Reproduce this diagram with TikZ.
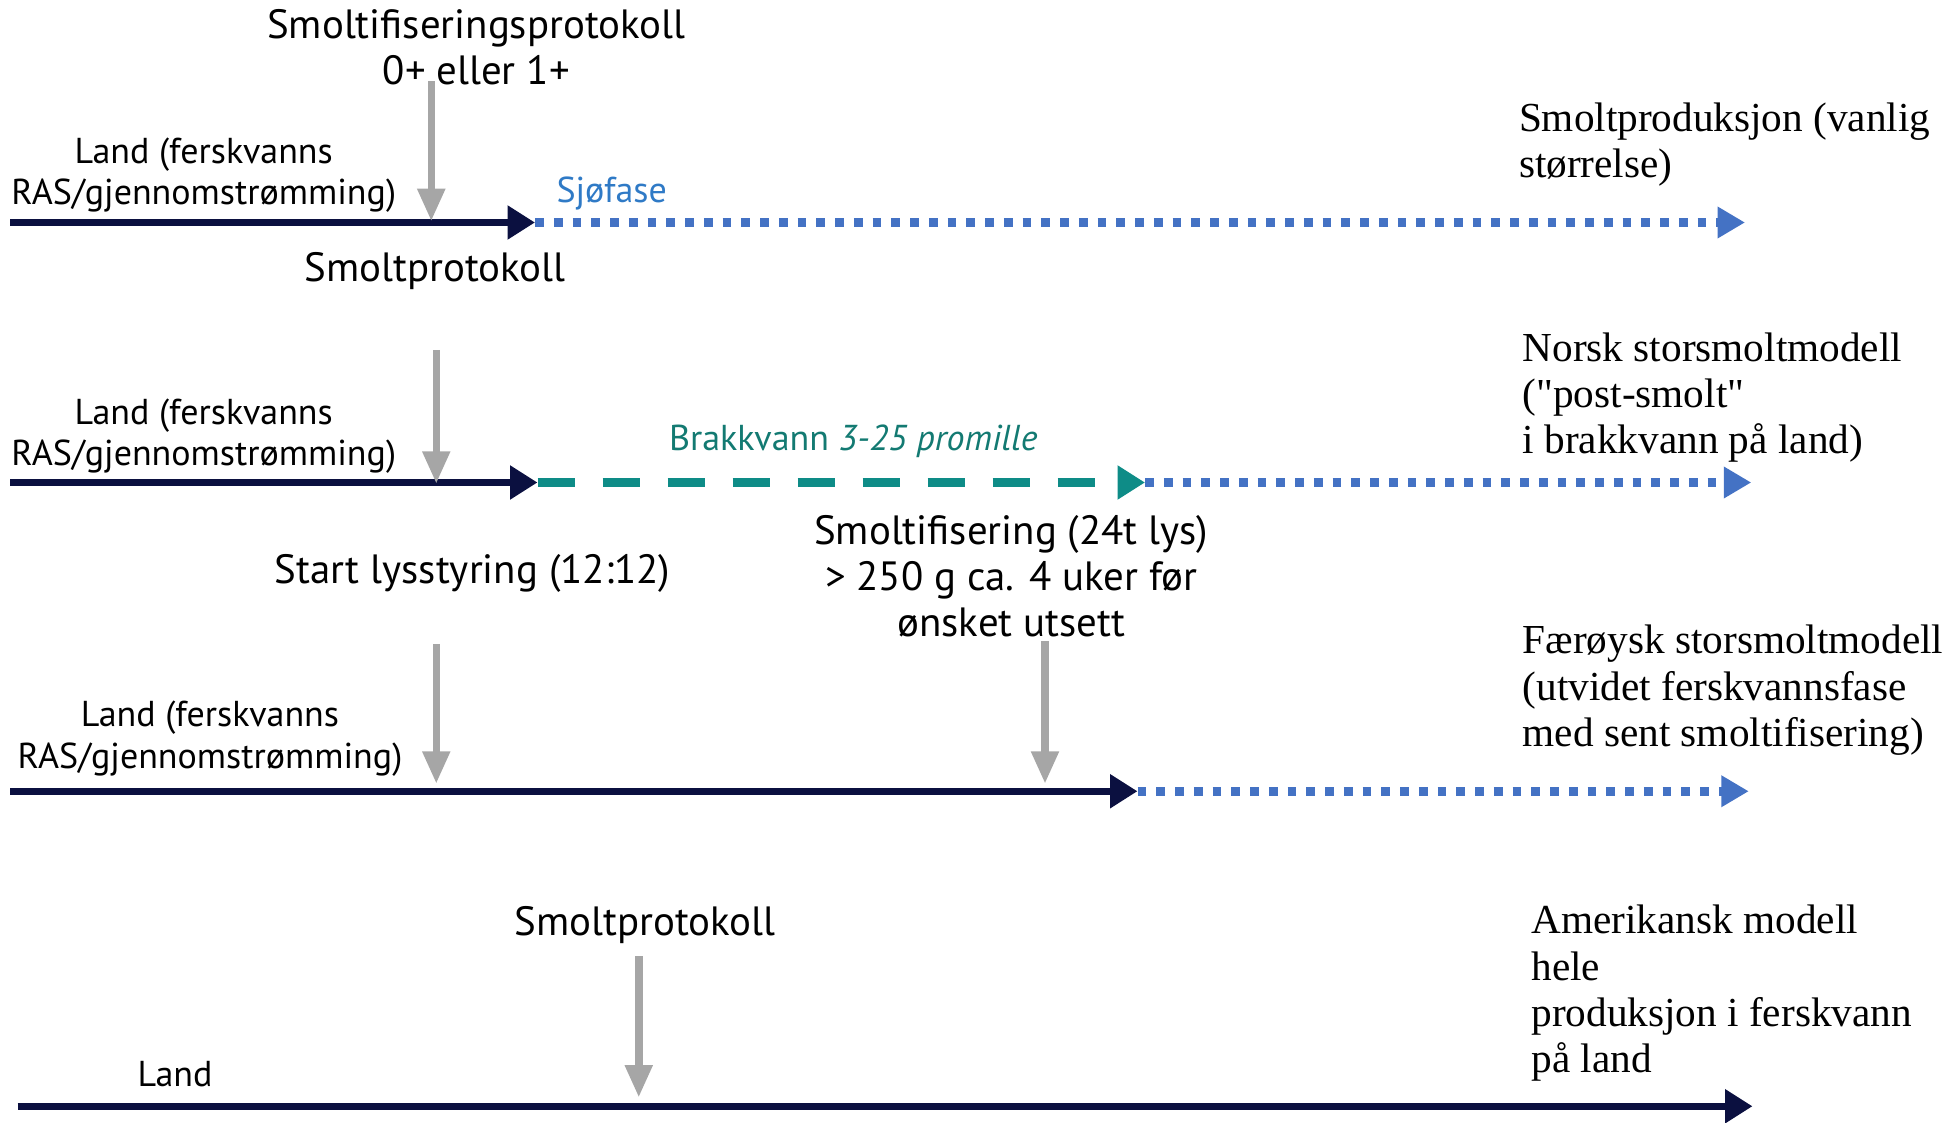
\documentclass[tikz,border=0pt]{standalone}
\usepackage{fontspec}
\usetikzlibrary{arrows.meta}
\newfontfamily\tsans{PT Sans}
\newfontfamily\tserif{Liberation Serif}
\definecolor{navy}{HTML}{0B1040}
\definecolor{dotblue}{HTML}{4472C4}
\definecolor{teal2}{HTML}{0E8C87}
\definecolor{tealtxt}{HTML}{137A72}
\definecolor{grayarr}{HTML}{A6A6A6}
\definecolor{sjoblue}{HTML}{2F7AC6}
\tikzset{
  navyline/.style={draw=navy, line width=6pt, -{Triangle[length=22pt,width=26pt]}},
  dotline/.style={draw=dotblue, line width=7pt, dash pattern=on 7pt off 8pt, -{Triangle[length=22pt,width=24pt,fill=dotblue]}},
  dashline/.style={draw=teal2, line width=7pt, dash pattern=on 30pt off 22pt, -{Triangle[length=22pt,width=26pt,fill=teal2]}},
  grayline/.style={draw=grayarr, line width=6pt, -{Triangle[length=26pt,width=21pt]}},
  sanstxt/.style={font=\tsans\fontsize{32.7}{37}\selectfont, align=center, inner sep=0pt},
  landtxt/.style={font=\tsans\fontsize{28.8}{33}\selectfont, align=center, inner sep=0pt},
  seriftxt/.style={font=\tserif\fontsize{33}{37}\selectfont, align=left, inner sep=0pt, anchor=north west},
}
\begin{document}
\begin{tikzpicture}[x=1pt,y=-1pt]
\useasboundingbox (0,0) rectangle (1568,898.4);
% ---------- Row 1
\node[sanstxt] (t1) at (381,38) {Smoltifiseringsprotokoll\\0+ eller 1+};
\node[landtxt] (l1) at (163,140) {Land (ferskvanns\\RAS/gjennomstrømming)};
\node[landtxt, text=sjoblue, anchor=west] (sj) at (445,155) {Sjøfase};
\node[seriftxt] (r1) at (1215,82) {Smoltproduksjon (vanlig\\størrelse)};
\coordinate (s1) at (8,178);
\coordinate (m1) at (428,178);
\coordinate (e1) at (1396,178);
\coordinate (g1a) at (345,65);
\coordinate (g1b) at (345,177);
\draw[navyline] (s1) -- (m1);
\draw[dotline] (m1) -- (e1);
\draw[grayline] (g1a) -- (g1b);
% ---------- Row 2
\node[sanstxt] (t2) at (348,217) {Smoltprotokoll};
\node[landtxt] (l2) at (163,349) {Land (ferskvanns\\RAS/gjennomstrømming)};
\node[landtxt, text=tealtxt, anchor=west] (br) at (535,353) {Brakkvann \textit{3-25 promille}};
\node[seriftxt] (r2) at (1218,266) {Norsk storsmoltmodell\\("post-smolt"\\i brakkvann på land)};
\coordinate (s2) at (8,386);
\coordinate (m2) at (430,386);
\coordinate (n2) at (916,386);
\coordinate (e2) at (1401,386);
\coordinate (g2a) at (349,280);
\coordinate (g2b) at (349,387);
\draw[navyline] (s2) -- (m2);
\draw[dashline] (m2) -- (n2);
\draw[dotline] (n2) -- (e2);
\draw[grayline] (g2a) -- (g2b);
% ---------- Row 3
\node[sanstxt] (t3) at (378,459) {Start lysstyring (12:12)};
\node[sanstxt] (t4) at (809,461) {Smoltifisering (24t lys)\\> 250 g ca. 4 uker før\\ønsket utsett};
\node[landtxt] (l3) at (168,591) {Land (ferskvanns\\RAS/gjennomstrømming)};
\node[seriftxt] (r3) at (1218,500) {Færøysk storsmoltmodell\\(utvidet ferskvannsfase\\med sent smoltifisering)};
\coordinate (s3) at (8,633);
\coordinate (m3) at (910,633);
\coordinate (e3) at (1399,633);
\coordinate (g3a) at (349,515);
\coordinate (g3b) at (349,627);
\coordinate (g4a) at (836,513);
\coordinate (g4b) at (836,627);
\draw[navyline] (s3) -- (m3);
\draw[dotline] (m3) -- (e3);
\draw[grayline] (g3a) -- (g3b);
\draw[grayline] (g4a) -- (g4b);
% ---------- Row 4
\node[sanstxt] (t5) at (516,740) {Smoltprotokoll};
\node[landtxt] (l4) at (140,859) {Land};
\node[seriftxt] (r4) at (1225,724) {Amerikansk modell\\hele\\produksjon i ferskvann\\på land};
\coordinate (s4) at (14,885);
\coordinate (e4) at (1402,885);
\coordinate (g5a) at (511,765);
\coordinate (g5b) at (511,878);
\draw[navyline] (s4) -- (e4);
\draw[grayline] (g5a) -- (g5b);
\end{tikzpicture}
\end{document}
